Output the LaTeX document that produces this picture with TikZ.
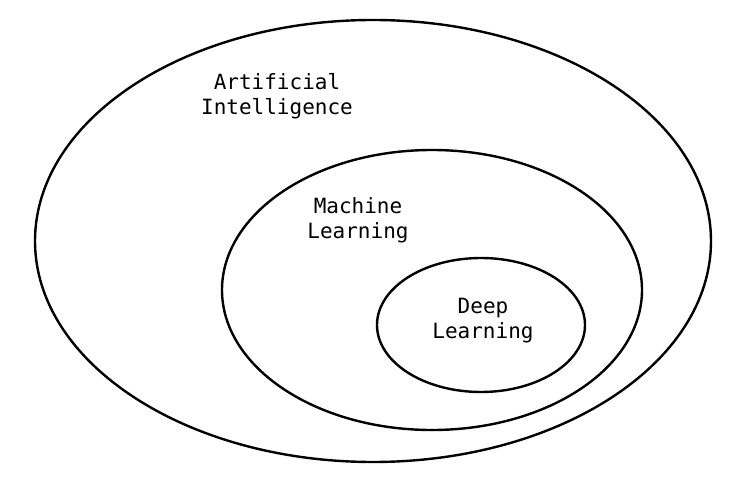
\documentclass[tikz,border=0pt]{standalone}
\usepackage{fontspec}
\setmonofont{DejaVu Sans Mono}
\begin{document}
\begin{tikzpicture}[x=1pt,y=-1pt,
  ring/.style={draw,line width=2.4pt},
  lbl/.style={font=\ttfamily\fontsize{21}{25}\selectfont,align=center}]
\useasboundingbox (0,0) rectangle (734,478);
\draw[ring] (373,241) ellipse [x radius=338,y radius=221];
\draw[ring] (432,290) ellipse [x radius=210,y radius=140];
\draw[ring] (481,325) ellipse [x radius=104,y radius=67];
\node[lbl] (ai) at (277,96) {Artificial\\Intelligence};
\node[lbl] (ml) at (358,220) {Machine\\Learning};
\node[lbl] (dl) at (483,321) {Deep\\Learning};
\end{tikzpicture}
\end{document}
